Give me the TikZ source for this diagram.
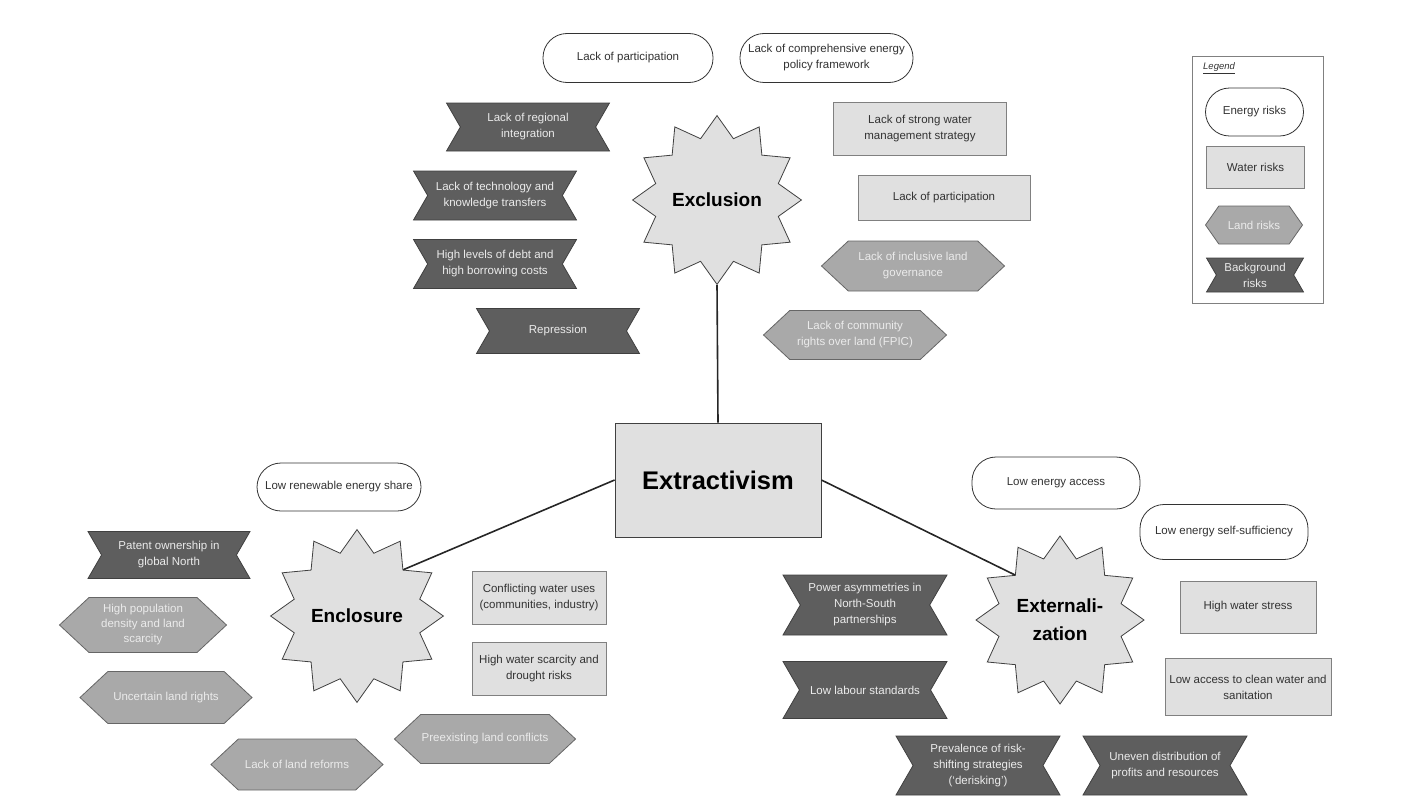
\documentclass[tikz,border=0pt]{standalone}
\usepackage{fontspec}
\setmainfont{Liberation Sans}
\usetikzlibrary{shapes.geometric,shapes.symbols}

\definecolor{waterfill}{HTML}{E0E0E0}
\definecolor{landfill}{HTML}{A9A9A9}
\definecolor{bgfill}{HTML}{5E5E5E}
\definecolor{lighttext}{HTML}{EBEBEB}
\definecolor{darktext}{HTML}{333333}

\tikzset{
	riskbox/.style={align=center, inner sep=1pt, line width=0.8pt,
		font=\fontsize{11.5}{16}\selectfont},
	energy/.style={riskbox, draw=black!80, fill=white, text=darktext,
		rounded corners=24pt, minimum width=170pt, minimum height=49pt},
	water/.style={riskbox, draw=black!50, fill=waterfill, text=darktext,
		minimum width=172pt, minimum height=50pt},
	land/.style={riskbox, signal, signal to=west and east, signal pointer angle=86,
		draw=black!60, fill=landfill, text=lighttext,
		minimum width=180pt, minimum height=50pt},
	backgr/.style={riskbox, signal, signal to=nowhere, signal from=west and east, signal pointer angle=120,
		draw=black!75, fill=bgfill, text=lighttext,
		minimum width=163pt, minimum height=48pt},
	spoke/.style={star, star points=12, star point ratio=1.33, draw=black!75,
		fill=waterfill, line width=0.8pt, minimum size=162pt, inner sep=0pt, align=center,
		font=\fontsize{19}{28}\selectfont\bfseries},
	link/.style={line width=1.6pt, draw=black!85},
}

\begin{document}
\begin{tikzpicture}[x=1pt, y=-1pt]
	\useasboundingbox (0,0) rectangle (1410,808);

	% centre and the three spokes
	\node[draw=black!75, fill=waterfill, line width=0.8pt, minimum width=206pt, minimum height=114pt,
		font=\fontsize{25.5}{30}\selectfont\bfseries] (ext) at (718,480) {Extractivism};
	\node[spoke] (exc) at (717,200) {Exclusion};
	\node[spoke] (enc) at (357,616) {Enclosure};
	\node[spoke, minimum size=168pt] (xtn) at (1060,620) {Externali-\\zation};

	\draw[link] (ext.north) -- (exc.south);
	\draw[link] (ext.west) -- (enc.45);
	\draw[link] (ext.east) -- (xtn.135);

	% exclusion
	\node[energy] (exc-e1) at (628,58) {Lack of participation};
	\node[energy, minimum width=173pt] (exc-e2) at (826.5,58) {Lack of comprehensive energy\\policy framework};
	\node[water, minimum width=173pt, minimum height=53pt] (exc-w1) at (920,129) {Lack of strong water\\management strategy};
	\node[water, minimum height=45pt] (exc-w2) at (944,198) {Lack of participation};
	\node[land, minimum width=183pt] (exc-l1) at (913,266) {Lack of inclusive land\\governance};
	\node[land, minimum width=183pt, minimum height=49pt] (exc-l2) at (855,335) {Lack of community\\rights over land (FPIC)};
	\node[backgr] (exc-b1) at (528,127) {Lack of regional\\integration};
	\node[backgr, minimum height=49pt] (exc-b2) at (495,195.5) {Lack of technology and\\knowledge transfers};
	\node[backgr, minimum height=49pt] (exc-b3) at (495,264) {High levels of debt and\\high borrowing costs};
	\node[backgr, minimum height=45pt] (exc-b4) at (558,331) {Repression};

	% enclosure
	\node[energy, minimum width=164pt, minimum height=48pt] (enc-e1) at (339,487) {Low renewable energy share};
	\node[backgr, minimum width=162pt, minimum height=47pt] (enc-b1) at (169,555) {Patent ownership in\\global North};
	\node[land, minimum width=167pt, minimum height=55pt, font=\fontsize{11.5}{15}\selectfont] (enc-l1) at (143,625) {High population\\density and land\\scarcity};
	\node[land, minimum width=172pt, minimum height=52pt] (enc-l2) at (166,697.5) {Uncertain land rights};
	\node[land, minimum width=172pt, minimum height=51pt] (enc-l3) at (297,764.5) {Lack of land reforms};
	\node[land, minimum width=173pt, minimum height=49pt] (enc-l4) at (485,739) {Preexisting land conflicts};
	\node[water, minimum width=134pt, minimum height=53pt] (enc-w1) at (539,598) {Conflicting water uses\\(communities, industry)};
	\node[water, minimum width=134pt, minimum height=53pt] (enc-w2) at (539,669) {High water scarcity and\\drought risks};

	% externalization
	\node[energy, minimum width=168pt, minimum height=52pt] (xtn-e1) at (1056,483) {Low energy access};
	\node[energy, minimum width=168pt, minimum height=55pt] (xtn-e2) at (1224,532) {Low energy self-sufficiency};
	\node[water, minimum width=136pt, minimum height=52pt] (xtn-w1) at (1248,607) {High water stress};
	\node[water, minimum width=166pt, minimum height=57pt] (xtn-w2) at (1248,687) {Low access to clean water and\\sanitation};
	\node[backgr, minimum width=164pt, minimum height=60pt] (xtn-b1) at (865,605) {Power asymmetries in\\North-South\\partnerships};
	\node[backgr, minimum width=164pt, minimum height=57pt] (xtn-b2) at (865,690) {Low labour standards};
	\node[backgr, minimum width=164pt, minimum height=59pt] (xtn-b3) at (978,765.5) {Prevalence of risk-\\shifting strategies\\(`derisking')};
	\node[backgr, minimum width=164pt, minimum height=59pt] (xtn-b4) at (1165,765.5) {Uneven distribution of\\profits and resources};

	% legend
	\draw[draw=black!50, line width=0.8pt] (1192,56) rectangle (1323,303);
	\node[anchor=west, inner sep=0pt, text=darktext, font=\fontsize{9.5}{11}\selectfont\itshape] (leg) at (1203,68) {\underline{Legend}};
	\node[energy, minimum width=98pt, minimum height=48pt] (leg-e) at (1254.5,112) {Energy risks};
	\node[water, minimum width=98pt, minimum height=42pt] (leg-w) at (1255.5,167.5) {Water risks};
	\node[land, minimum width=97pt, minimum height=38pt, signal pointer angle=110] (leg-l) at (1254,225) {Land risks};
	\node[backgr, minimum width=97pt, minimum height=34pt] (leg-b) at (1255,275) {Background\\risks};
\end{tikzpicture}
\end{document}
